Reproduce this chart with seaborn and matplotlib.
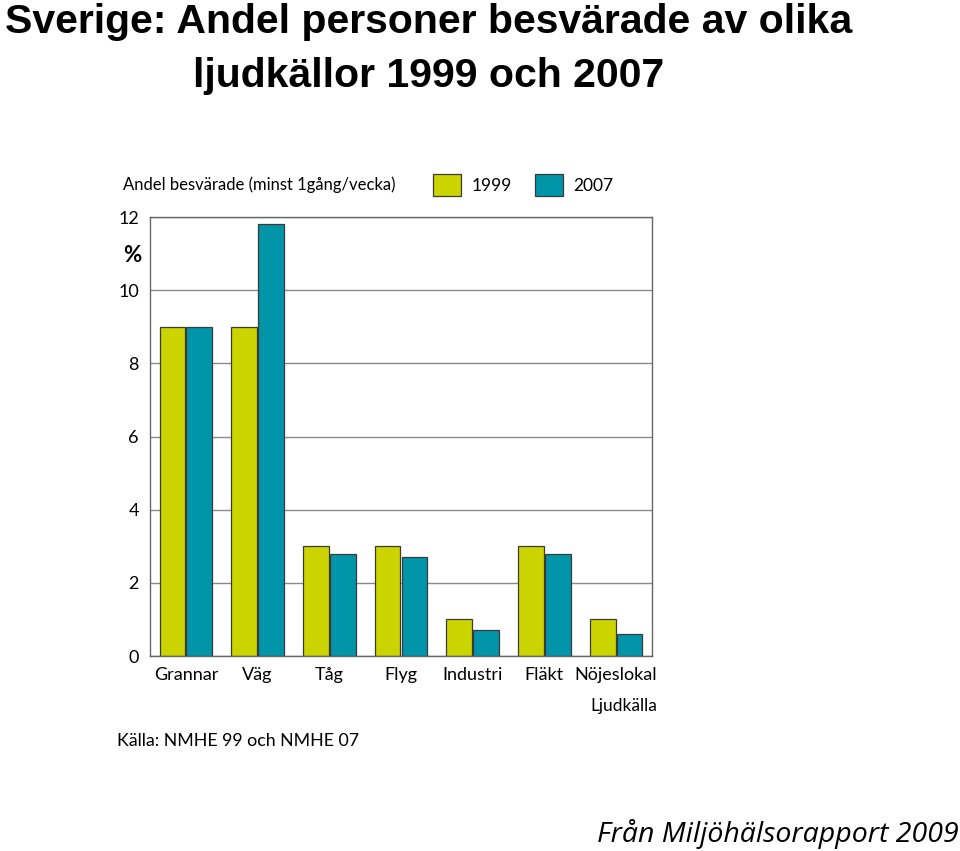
import pandas as pd
import numpy as np
import seaborn as sns
import matplotlib.pyplot as plt

sns.set_style('white')
plt.rcParams['font.family'] = ['Lato', 'DejaVu Sans']
plt.rcParams['text.color'] = 'black'
plt.rcParams['xtick.color'] = 'black'
plt.rcParams['ytick.color'] = 'black'

sources = ['Grannar', 'Väg', 'Tåg', 'Flyg', 'Industri', 'Fläkt', 'Nöjeslokal']
share_1999 = [9.0, 9.0, 3.0, 3.0, 1.0, 3.0, 1.0]
share_2007 = [9.0, 11.8, 2.8, 2.7, 0.7, 2.8, 0.6]
years = ['1999', '2007']
yticks = [0, 2, 4, 6, 8, 10, 12]

df = pd.DataFrame({'källa': sources * 2,
                   'andel': share_1999 + share_2007,
                   'år': [years[0]] * len(sources) + [years[1]] * len(sources)})

fig = plt.figure(figsize=(9.6, 8.51), dpi=100)
ax = fig.add_axes([0.15625, 0.2291, 0.5229, 0.5159])

sns.barplot(data=df, x='källa', y='andel', hue='år',
            palette={'1999': '#ccd400', '2007': '#0095a9'}, saturation=1,
            width=0.75, gap=0.04, edgecolor='#3a3a3a', linewidth=0.9,
            ax=ax, legend=True)

ax.set_xlim(-0.5, 6.5)
ax.set_ylim(0, 12)
ax.set_yticks(yticks)
ax.set_yticklabels([str(t) for t in yticks], fontsize=13)
ax.tick_params(axis='y', length=0, pad=8)
ax.tick_params(axis='x', length=0, pad=8, labelsize=13)
ax.yaxis.grid(True, color='#8a8a8a', linewidth=1)
ax.set_axisbelow(True)
for s in ax.spines.values():
    s.set_color('#666666')
    s.set_linewidth(1)
ax.set_xlabel('')
ax.set_ylabel('')

ax.legend(loc='center left', bbox_to_anchor=(0.563, 1.073), ncol=2,
          frameon=False, fontsize=12.5, handlelength=1.65, handleheight=1.6,
          handletextpad=0.6, columnspacing=1.3, borderpad=0, borderaxespad=0)

ax.text(-0.036, 0.913, '%', transform=ax.transAxes, fontsize=16,
        fontweight='bold', ha='center', va='center')
ax.text(-0.054, 1.073, 'Andel besvärade (minst 1gång/vecka)',
        transform=ax.transAxes, fontsize=12, ha='left', va='center')
ax.text(1.01, -0.114, 'Ljudkälla', transform=ax.transAxes, fontsize=12.5,
        ha='right', va='center')
ax.text(-0.066, -0.193, 'Källa: NMHE 99 och NMHE 07', transform=ax.transAxes,
        fontsize=12.8, ha='left', va='center')

fig.text(0.446, 0.997, 'Sverige: Andel personer besvärade av olika\nljudkällor 1999 och 2007',
         fontsize=29.5, fontweight='bold', ha='center', va='top', color='black',
         family=['Liberation Sans', 'DejaVu Sans'], linespacing=1.55)
fig.text(0.999, 0.02, 'Från Miljöhälsorapport 2009', fontsize=20.5,
         style='italic', ha='right', va='center',
         family=['Open Sans', 'DejaVu Sans'])

fig.savefig('out.png', dpi=100)
